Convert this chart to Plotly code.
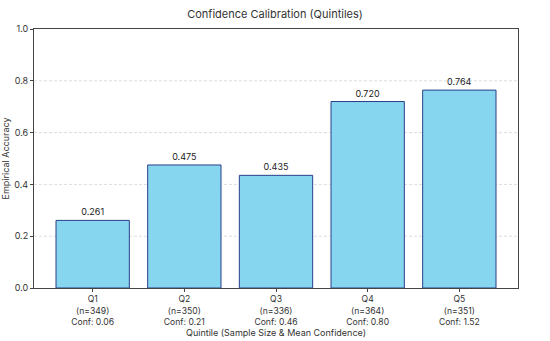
import plotly.graph_objects as go

quintiles = ["Q1", "Q2", "Q3", "Q4", "Q5"]
sample_sizes = [349, 350, 336, 364, 351]
mean_conf = [0.06, 0.21, 0.46, 0.80, 1.52]
accuracy = [0.261, 0.475, 0.435, 0.720, 0.764]
y_ticks = [0.0, 0.2, 0.4, 0.6, 0.8, 1.0]

tick_text = [f"{q}<br>(n={n})<br>Conf: {c:.2f}" for q, n, c in zip(quintiles, sample_sizes, mean_conf)]
x_pos = list(range(len(quintiles)))

FONT = "Inter, Roboto, sans-serif"

fig = go.Figure()
fig.add_trace(go.Bar(
    x=x_pos, y=accuracy, width=0.8,
    marker=dict(color="#87d6ef", line=dict(color="#2a3f8a", width=1)),
    text=[f"{v:.3f}" for v in accuracy],
    textposition="outside",
    textfont=dict(size=9, color="#222", family=FONT),
    cliponaxis=False,
))

for v in y_ticks[1:-1]:
    fig.add_shape(type="line", xref="paper", yref="y", x0=0, x1=1, y0=v, y1=v,
                  line=dict(color="#dddddd", width=1, dash="3px,2px"), layer="below")

fig.update_layout(
    width=550, height=341,
    margin=dict(l=34, r=32, t=29, b=53),
    plot_bgcolor="white", paper_bgcolor="white",
    font=dict(family=FONT, size=9, color="#333"),
    title=dict(text="Confidence Calibration (Quintiles)", x=0.5, xanchor="center",
               y=1 - 14 / 341, yanchor="middle", font=dict(size=11, color="#333")),
    showlegend=False,
    bargap=0.2,
)
fig.update_xaxes(
    range=[-0.64, 4.64], tickmode="array", tickvals=x_pos, ticktext=tick_text,
    showline=True, linecolor="#444", linewidth=1, mirror=True, automargin=False,
    ticks="outside", ticklen=3, tickcolor="#444", showgrid=False, zeroline=False,
    tickfont=dict(size=8.6),
    title=dict(text="Quintile (Sample Size & Mean Confidence)", font=dict(size=9), standoff=2),
)
fig.update_yaxes(
    range=[0, 1.0], tickmode="array", tickvals=y_ticks, ticktext=[f"{v:.1f}" for v in y_ticks],
    showline=True, linecolor="#444", linewidth=1, mirror=True, automargin=False,
    ticks="outside", ticklen=3, tickcolor="#444", showgrid=False, zeroline=False,
    tickfont=dict(size=9),
    title=dict(text="Empirical Accuracy", font=dict(size=9), standoff=4),
)

fig.write_html("out.html", config={"displayModeBar": False},
               post_script="document.body.style.margin='0';")
